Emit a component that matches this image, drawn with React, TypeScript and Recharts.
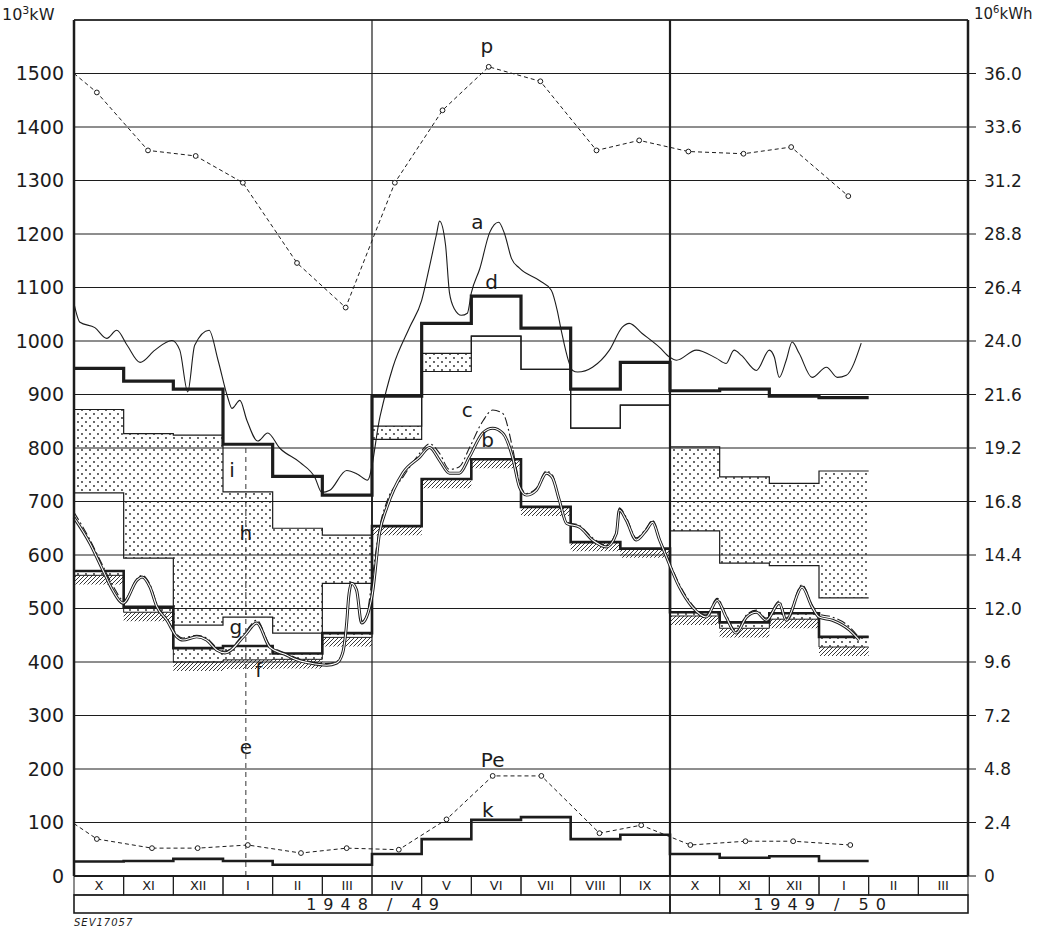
import React from 'react';
import { ComposedChart, Line, Area, XAxis, YAxis, CartesianGrid, ReferenceLine, ReferenceDot } from 'recharts';

// month cells of the bottom table (X 1948 .. III 1950)
const MONTHS = ['X', 'XI', 'XII', 'I', 'II', 'III', 'IV', 'V', 'VI', 'VII', 'VIII', 'IX', 'X', 'XI', 'XII', 'I', 'II', 'III'];
const YEARS = [
  { start: 0, span: 12, label: '1948 / 49' },
  { start: 12, span: 6, label: '1949 / 50' },
];

const LEFT_TICKS = [0, 100, 200, 300, 400, 500, 600, 700, 800, 900, 1000, 1100, 1200, 1300, 1400, 1500];
const RIGHT_TICKS = [0, 2.4, 4.8, 7.2, 9.6, 12.0, 14.4, 16.8, 19.2, 21.6, 24.0, 26.4, 28.8, 31.2, 33.6, 36.0];

// monthly step values in 10^3 kW, X 1948 .. I 1950
const dTop = [949, 925, 910, 807, 747, 712, 897, 1033, 1084, 1024, 910, 960, 907, 910, 897, 894];
const hHigh = [872, 827, 824, 718, 650, 637, 841, 977, 1009, 947, 837, 880, 802, 746, 734, 757];
const hLow = [716, 594, 469, 484, 454, 547, 816, 943, 1009, 947, 837, 880, 645, 585, 580, 520];
const fHigh = [570, 503, 426, 430, 416, 454, 654, 742, 779, 690, 624, 612, 493, 474, 491, 447];
const fLow = [562, 493, 400, 404, 405, 446, 654, 742, 779, 690, 624, 612, 486, 463, 480, 428];
const hatchLow = [545, 476, 383, 387, 388, 429, 637, 725, 762, 673, 607, 595, 469, 446, 463, 411];
const kVals = [27, 28, 32, 28, 21, 21, 41, 69, 105, 110, 69, 77, 41, 34, 37, 28];

// monthly energy in 10^6 kWh (right axis)
const pX = [0, 0.46, 1.49, 2.45, 3.4, 4.49, 5.47, 6.46, 7.42, 8.35, 9.39, 10.52, 11.38, 12.37, 13.48, 14.44, 15.59];
const pVals = [36.0, 35.15, 32.55, 32.3, 31.1, 27.5, 25.5, 31.1, 34.35, 36.3, 35.65, 32.55, 33.0, 32.5, 32.4, 32.7, 30.5];
const peX = [0, 0.46, 1.57, 2.49, 3.5, 4.57, 5.49, 6.54, 7.5, 8.43, 9.41, 10.58, 11.42, 12.41, 13.52, 14.48, 15.63];
const peVals = [2.35, 1.66, 1.25, 1.25, 1.39, 1.03, 1.25, 1.18, 2.54, 4.49, 4.49, 1.92, 2.28, 1.39, 1.56, 1.56, 1.39];

// daily curves [month position, 10^3 kW]
const aCurve = [
  [0, 1070], [0.12, 1035], [0.42, 1025], [0.66, 1005], [0.86, 1020], [1.07, 992], [1.33, 960], [1.63, 983],
  [1.97, 1001], [2.13, 983], [2.29, 905], [2.43, 992], [2.72, 1020], [2.9, 964], [3.1, 893], [3.18, 874],
  [3.34, 889], [3.48, 852], [3.7, 813], [3.9, 828], [4.14, 800], [4.55, 773], [4.85, 745], [4.99, 717],
  [5.15, 721], [5.49, 758], [5.71, 751], [5.91, 740], [6.16, 858], [6.42, 951], [6.76, 1026], [7.0, 1076],
  [7.16, 1140], [7.3, 1200], [7.36, 1224], [7.48, 1180], [7.56, 1090], [7.66, 1060], [7.8, 1048], [7.92, 1052],
  [8.0, 1090], [8.17, 1135], [8.37, 1203], [8.55, 1222], [8.67, 1200], [8.81, 1154], [8.97, 1136], [9.37, 1113],
  [9.61, 1095], [9.73, 1057], [9.81, 1020], [10.04, 945], [10.14, 942], [10.44, 951], [10.78, 983], [11.04, 1026],
  [11.18, 1033], [11.44, 1014], [11.79, 988], [11.99, 970], [12.13, 964], [12.53, 983], [12.93, 968], [13.13, 958],
  [13.29, 983], [13.44, 973], [13.74, 945], [14.0, 983], [14.1, 970], [14.2, 932], [14.34, 964], [14.46, 998],
  [14.6, 977], [14.86, 932], [15.15, 951], [15.37, 932], [15.55, 936], [15.85, 996],
];
const bCurve = [
  [0, 670], [0.32, 622], [0.58, 572], [0.78, 534], [0.99, 510], [1.27, 553], [1.37, 559], [1.53, 540],
  [1.67, 503], [1.87, 478], [2.07, 447], [2.19, 441], [2.47, 447], [2.67, 441], [2.88, 422], [3.04, 417],
  [3.44, 450], [3.68, 473], [3.94, 428], [4.28, 413], [4.49, 404], [4.75, 398], [5.09, 394], [5.29, 398],
  [5.41, 417], [5.49, 473], [5.53, 521], [5.59, 547], [5.69, 534], [5.79, 473], [5.89, 484], [6.01, 529],
  [6.15, 640], [6.3, 689], [6.62, 753], [6.96, 783], [7.16, 801], [7.36, 777], [7.56, 753], [7.76, 753],
  [7.96, 783], [8.23, 828], [8.43, 837], [8.63, 828], [8.83, 783], [8.97, 727], [9.11, 712], [9.31, 721],
  [9.51, 753], [9.63, 745], [9.77, 703], [9.92, 659], [10.18, 652], [10.44, 628], [10.72, 615], [10.92, 640],
  [10.98, 684], [11.12, 665], [11.32, 628], [11.52, 646], [11.65, 661], [11.79, 628], [11.93, 596], [12.19, 540],
  [12.45, 503], [12.73, 484], [12.95, 515], [13.13, 484], [13.33, 454], [13.54, 484], [13.74, 493], [13.94, 478],
  [14.2, 510], [14.34, 478], [14.66, 540], [14.86, 503], [15.0, 484], [15.27, 478], [15.61, 460], [15.81, 441],
];
const cCurve = [
  [0, 680], [0.3, 632], [0.58, 580], [0.8, 540], [1.0, 515], [1.27, 556], [1.37, 562], [1.53, 545],
  [1.67, 508], [1.87, 482], [2.07, 452], [2.19, 445], [2.47, 450], [2.67, 445], [2.88, 426], [3.04, 420],
  [3.44, 455], [3.68, 478], [3.94, 432], [4.28, 416], [4.49, 407], [4.75, 401], [5.09, 397], [5.29, 401],
  [5.41, 420], [5.49, 476], [5.53, 524], [5.59, 550], [5.69, 537], [5.79, 476], [5.89, 487], [6.01, 560],
  [6.15, 650], [6.3, 700], [6.62, 745], [6.96, 790], [7.16, 808], [7.36, 790], [7.56, 760], [7.76, 765],
  [7.96, 800], [8.23, 850], [8.43, 871], [8.63, 865], [8.83, 800], [8.97, 735], [9.11, 715], [9.31, 725],
  [9.51, 757], [9.63, 750], [9.77, 700], [9.92, 662], [10.18, 655], [10.44, 632], [10.72, 618], [10.92, 645],
  [10.98, 688], [11.12, 670], [11.32, 632], [11.52, 650], [11.65, 665], [11.79, 630], [11.93, 600], [12.19, 545],
  [12.45, 507], [12.73, 488], [12.95, 519], [13.13, 488], [13.33, 458], [13.54, 488], [13.74, 497], [13.94, 482],
  [14.2, 514], [14.34, 482], [14.66, 544], [14.86, 507], [15.0, 490], [15.27, 484], [15.61, 466], [15.81, 445],
];

const LETTERS = [
  { t: 'p', x: 8.31, y: 1552 }, { t: 'a', x: 8.12, y: 1222 }, { t: 'd', x: 8.41, y: 1110 },
  { t: 'c', x: 7.92, y: 871 }, { t: 'b', x: 8.33, y: 815 }, { t: 'i', x: 3.18, y: 759 },
  { t: 'h', x: 3.46, y: 641 }, { t: 'g', x: 3.26, y: 465 }, { t: 'f', x: 3.72, y: 385 },
  { t: 'e', x: 3.46, y: 241 }, { t: 'Pe', x: 8.43, y: 217 }, { t: 'k', x: 8.33, y: 123 },
];

const W = 1044;
const H = 915;
const PLOT_TOP = 20;
const PLOT_BOTTOM = 876;
const MW = (1044 - 74 - 76) / 18;
const INK = '#1c1c1c';
const FONT = 'DejaVu Sans';

const stepPts = (vals: number[]) => [...vals.map((v, i) => ({ x: i, v })), { x: vals.length, v: vals[vals.length - 1] }];
const bandPts = (lo: number[], hi: number[]) => [
  ...lo.map((l, i) => ({ x: i, r: [l, hi[i]] })),
  { x: lo.length, r: [lo[lo.length - 1], hi[hi.length - 1]] },
];
const curvePts = (c: number[][]) => c.map(([x, v]) => ({ x, v }));
const zipPts = (xs: number[], vs: number[]) => xs.map((x, i) => ({ x, v: vs[i] }));

// month cell + (at the first month of each season) the year cell below it
const MonthTick = (props: any) => {
  const { x, payload } = props;
  const i = Math.floor(payload.value);
  const left = x - MW / 2;
  const yr = YEARS.find((y) => y.start === i);
  return (
    <g>
      <rect x={left} y={PLOT_BOTTOM} width={MW} height={19} fill="none" stroke={INK} strokeWidth={1} />
      <text x={x} y={PLOT_BOTTOM + 14} textAnchor="middle" fontSize={13} fontFamily={FONT} fill={INK}>
        {MONTHS[i]}
      </text>
      {yr && (
        <g>
          <rect x={left} y={PLOT_BOTTOM + 19} width={yr.span * MW} height={18} fill="none" stroke={INK} strokeWidth={1.6} />
          <text
            x={left + (yr.span * MW) / 2 + 4}
            y={PLOT_BOTTOM + 34}
            textAnchor="middle"
            fontSize={16}
            fontFamily={FONT}
            fill={INK}
            letterSpacing={7}
          >
            {yr.label}
          </text>
        </g>
      )}
    </g>
  );
};

const circleDot = (props: any) => {
  const { cx, cy, index } = props;
  if (index === 0) return <g key={`d${index}`} />;
  return <circle key={`d${index}`} cx={cx} cy={cy} r={2.4} fill="#fff" stroke={INK} strokeWidth={1} />;
};

export default function App() {
  return (
    <div style={{ position: 'absolute', left: 0, top: 0, width: W, height: 930, background: '#fff' }}>
      <svg width={0} height={0} style={{ position: 'absolute' }}>
        <defs>
          <pattern id="dots" width="8" height="8" patternUnits="userSpaceOnUse">
            <circle cx="2" cy="2" r="0.9" fill="#222" />
            <circle cx="6" cy="6" r="0.9" fill="#222" />
          </pattern>
          <pattern id="hatch" width="4" height="4" patternUnits="userSpaceOnUse">
            <path d="M0,4 L4,0 M-1,1 L1,-1 M3,5 L5,3" stroke="#222" strokeWidth="0.9" />
          </pattern>
        </defs>
      </svg>
      <ComposedChart width={W} height={H} margin={{ top: PLOT_TOP, right: 0, bottom: 2, left: 0 }}>
        <CartesianGrid horizontal vertical={false} stroke={INK} strokeWidth={1} />
        <XAxis
          dataKey="x"
          type="number"
          domain={[0, 18]}
          ticks={MONTHS.map((_, i) => i + 0.5)}
          interval={0}
          height={37}
          tickLine={false}
          axisLine={{ stroke: INK, strokeWidth: 2 }}
          tick={MonthTick}
        />
        <YAxis
          type="number"
          domain={[0, 1600]}
          ticks={LEFT_TICKS}
          interval={0}
          width={74}
          tickLine={false}
          tickSize={0}
          tickMargin={10}
          axisLine={{ stroke: INK, strokeWidth: 2.5 }}
          tick={{ fill: INK, fontSize: 19, fontFamily: FONT }}
        />
        <YAxis
          yAxisId="r"
          orientation="right"
          type="number"
          domain={[0, 38.4]}
          ticks={RIGHT_TICKS}
          interval={0}
          width={76}
          tickSize={8}
          tickMargin={8}
          tickLine={{ stroke: INK }}
          axisLine={{ stroke: INK, strokeWidth: 2.5 }}
          tick={{ fill: INK, fontSize: 17, fontFamily: FONT }}
          tickFormatter={(v: number) => (v === 0 ? '0' : v.toFixed(1))}
        />

        <ReferenceLine y={1600} stroke={INK} strokeWidth={1.5} />
        <ReferenceLine x={6} stroke={INK} strokeWidth={1.2} />
        <ReferenceLine x={12} stroke={INK} strokeWidth={2.2} />
        <ReferenceLine segment={[{ x: 3.46, y: 0 }, { x: 3.46, y: 807 }]} stroke="#333" strokeDasharray="5 4" strokeWidth={1} />

        <Area data={bandPts(hatchLow, fLow)} dataKey="r" type="stepAfter" fill="url(#hatch)" fillOpacity={1} stroke="none" isAnimationActive={false} activeDot={false} />
        <Area data={bandPts(hLow, hHigh)} dataKey="r" type="stepAfter" fill="url(#dots)" fillOpacity={1} stroke={INK} strokeWidth={1.2} isAnimationActive={false} activeDot={false} />
        <Area data={bandPts(fLow, fHigh)} dataKey="r" type="stepAfter" fill="url(#dots)" fillOpacity={1} stroke={INK} strokeWidth={1} isAnimationActive={false} activeDot={false} />

        <Line data={stepPts(fHigh)} dataKey="v" type="stepAfter" stroke={INK} strokeWidth={2.6} dot={false} activeDot={false} isAnimationActive={false} />
        <Line data={stepPts(dTop)} dataKey="v" type="stepAfter" stroke={INK} strokeWidth={3.2} dot={false} activeDot={false} isAnimationActive={false} />
        <Line data={stepPts(kVals)} dataKey="v" type="stepAfter" stroke={INK} strokeWidth={2.6} dot={false} activeDot={false} isAnimationActive={false} />

        <Line data={curvePts(aCurve)} dataKey="v" type="monotone" stroke={INK} strokeWidth={1.1} dot={false} activeDot={false} isAnimationActive={false} />
        <Line data={curvePts(cCurve)} dataKey="v" type="monotone" stroke={INK} strokeWidth={1.1} strokeDasharray="9 3 2 3" dot={false} activeDot={false} isAnimationActive={false} />
        <Line data={curvePts(bCurve)} dataKey="v" type="monotone" stroke={INK} strokeWidth={3} dot={false} activeDot={false} isAnimationActive={false} />
        <Line data={curvePts(bCurve)} dataKey="v" type="monotone" stroke="#fff" strokeWidth={1.1} dot={false} activeDot={false} isAnimationActive={false} />

        <Line yAxisId="r" data={zipPts(pX, pVals)} dataKey="v" type="linear" stroke={INK} strokeWidth={1} strokeDasharray="4 3" dot={circleDot} activeDot={false} isAnimationActive={false} />
        <Line yAxisId="r" data={zipPts(peX, peVals)} dataKey="v" type="linear" stroke={INK} strokeWidth={1} strokeDasharray="4 3" dot={circleDot} activeDot={false} isAnimationActive={false} />

        {LETTERS.map((l) => (
          <ReferenceDot
            key={l.t}
            x={l.x}
            y={l.y}
            r={0}
            stroke="none"
            fill="none"
            label={{ value: l.t, position: 'center', fontSize: 20, fontFamily: FONT, fill: INK }}
          />
        ))}
      </ComposedChart>
      <div style={{ position: 'absolute', left: 2, top: 4, fontFamily: FONT, fontSize: 16, color: INK }}>
        10<sup style={{ fontSize: 11 }}>3</sup>kW
      </div>
      <div style={{ position: 'absolute', left: 974, top: 4, fontFamily: FONT, fontSize: 15, color: INK }}>
        10<sup style={{ fontSize: 10 }}>6</sup>kWh
      </div>
      <div style={{ position: 'absolute', left: 74, top: 917, fontFamily: FONT, fontSize: 10, fontStyle: 'italic', color: INK, letterSpacing: 1 }}>
        SEV17057
      </div>
    </div>
  );
}
